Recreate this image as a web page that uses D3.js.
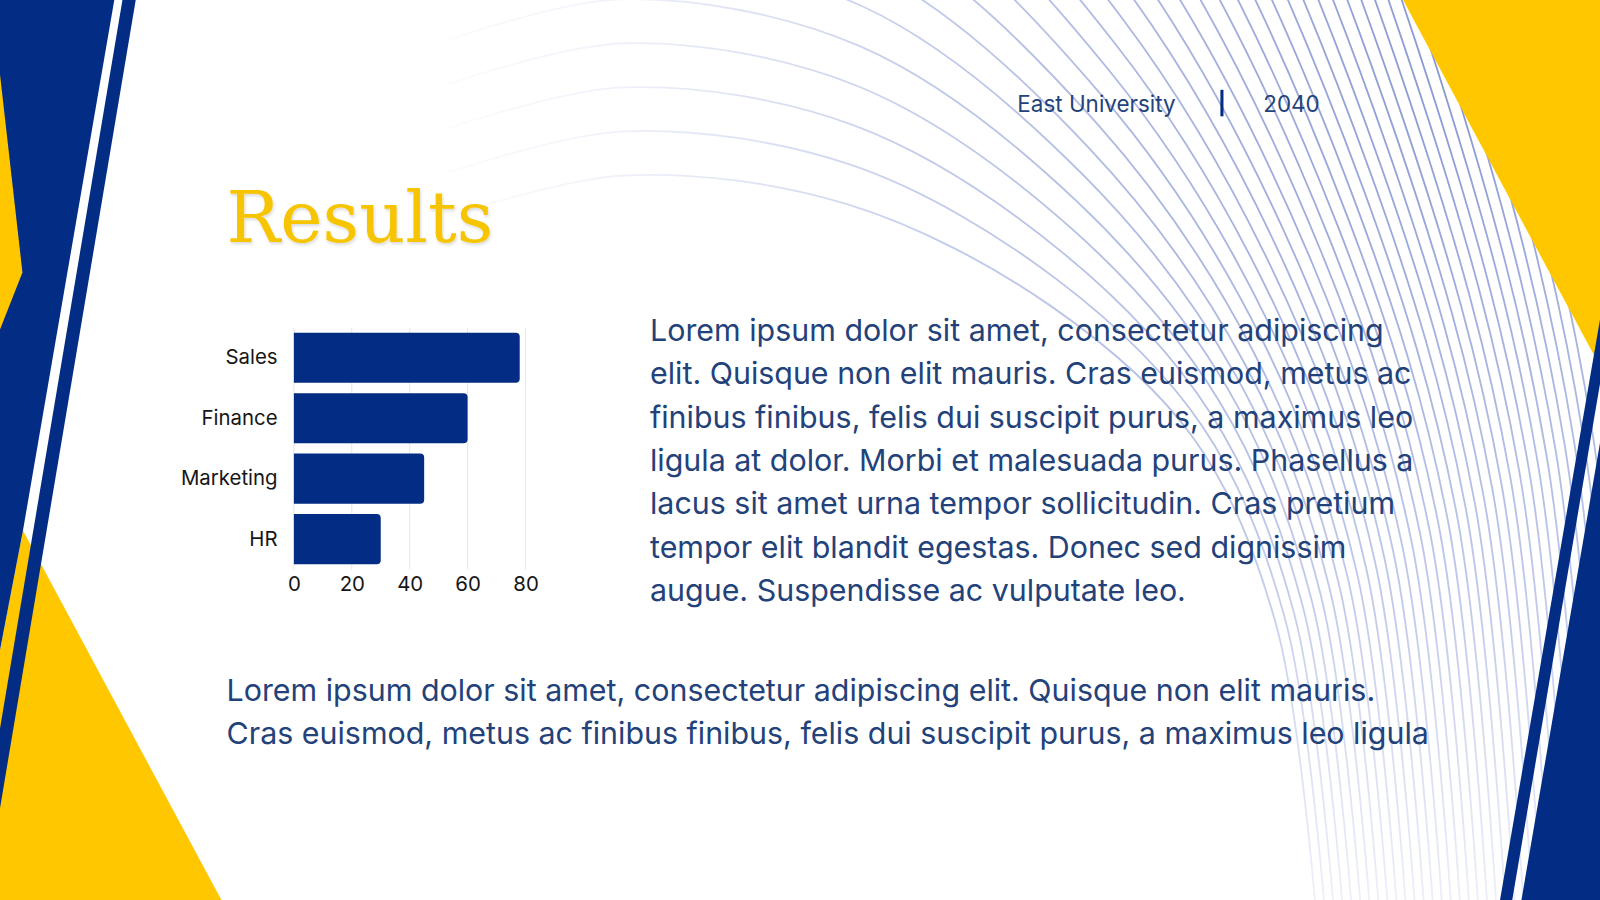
<!DOCTYPE html>
<html>
<head>
<meta charset="utf-8">
<title>Results</title>
<script src="https://d3js.org/d3.v7.min.js"></script>
<style>
  body { margin: 0; background: #fff; overflow: hidden; }
  svg { display: block; }
</style>
</head>
<body>
<svg id="slide"></svg>
<script>
// ---- chart data ----
var categories = ["Sales", "Finance", "Marketing", "HR"];
var values = [78, 60, 45, 30];
var xTicks = [0, 20, 40, 60, 80];

// ---- slide text ----
var headerLeft = "East University";
var headerRight = "2040";
var title = "Results";
var sideText = [
  "Lorem ipsum dolor sit amet, consectetur adipiscing",
  "elit. Quisque non elit mauris. Cras euismod, metus ac",
  "finibus finibus, felis dui suscipit purus, a maximus leo",
  "ligula at dolor. Morbi et malesuada purus. Phasellus a",
  "lacus sit amet urna tempor sollicitudin. Cras pretium",
  "tempor elit blandit egestas. Donec sed dignissim",
  "augue. Suspendisse ac vulputate leo."
];
var bottomText = [
  "Lorem ipsum dolor sit amet, consectetur adipiscing elit. Quisque non elit mauris.",
  "Cras euismod, metus ac finibus finibus, felis dui suscipit purus, a maximus leo ligula"
];

var W = 1568, H = 882;
var navy = "#032c84", yellow = "#ffc700", ink = "#23427a";
var sans = "Inter, 'Noto Sans', sans-serif";

var svg = d3.select("#slide")
  .attr("width", 1600).attr("height", 900)
  .attr("viewBox", "0 0 " + W + " " + H);

var defs = svg.append("defs");
var grad = defs.append("radialGradient").attr("id", "waveFade")
  .attr("gradientUnits", "userSpaceOnUse")
  .attr("cx", 1450).attr("cy", 60).attr("r", 1100);
grad.append("stop").attr("offset", 0).attr("stop-color", "#8494d2").attr("stop-opacity", 1);
grad.append("stop").attr("offset", 0.5).attr("stop-color", "#9aa8dc").attr("stop-opacity", 0.6);
grad.append("stop").attr("offset", 0.8).attr("stop-color", "#b0bbe4").attr("stop-opacity", 0.15);
grad.append("stop").attr("offset", 1).attr("stop-color", "#b7c2e8").attr("stop-opacity", 0);

defs.append("filter").attr("id", "soft")
  .append("feDropShadow").attr("dx", 1).attr("dy", 2).attr("stdDeviation", 1.5)
  .attr("flood-color", "#000").attr("flood-opacity", 0.15);

// background wave lines: blend between an inner and an outer guide curve
var innerGuide = [[440, 212], [612, 172], [830, 200], [1030, 300], [1170, 430], [1250, 610], [1290, 900]];
var outerGuide = [[440, -1300], [612, -1340], [950, -1150], [1250, -600], [1460, 0], [1560, 420], [1600, 900]];
var nLines = 36;
var waveLine = d3.line().curve(d3.curveCatmullRom.alpha(0.5));
var waves = svg.append("g")
  .attr("fill", "none").attr("stroke", "url(#waveFade)").attr("stroke-width", 1.8);
d3.range(nLines).forEach(function(i) {
  var t = i / (nLines - 1);
  var pts = innerGuide.map(function(a, k) {
    var b = outerGuide[k];
    return [a[0] + (b[0] - a[0]) * t, a[1] + (b[1] - a[1]) * t];
  });
  waves.append("path").attr("d", waveLine(pts));
});

// side decorations
var shapes = [
  { fill: yellow, pts: [[22.5, 520], [217, 882], [0, 882], [0, 637]] },
  { fill: navy,   pts: [[0, 0], [112, 0], [22.5, 520], [0, 637]] },
  { fill: yellow, pts: [[0, 73], [22, 267], [0, 323]] },
  { fill: navy,   pts: [[120, 0], [133, 0], [0, 792], [0, 714]] },
  { fill: yellow, pts: [[1375, 0], [1568, 0], [1568, 359]] },
  { fill: navy,   pts: [[1568, 313], [1568, 376], [1482, 882], [1470, 882]] },
  { fill: navy,   pts: [[1568, 434], [1568, 882], [1491, 882]] }
];
svg.append("g").selectAll("polygon").data(shapes).join("polygon")
  .attr("points", function(d) { return d.pts.join(" "); })
  .attr("fill", function(d) { return d.fill; });

// header
svg.append("text").attr("x", 997).attr("y", 110)
  .attr("font-family", sans).attr("font-size", 22).attr("fill", ink)
  .text(headerLeft);
svg.append("rect").attr("x", 1196).attr("y", 88).attr("width", 3).attr("height", 26)
  .attr("fill", navy);
svg.append("text").attr("x", 1238).attr("y", 110)
  .attr("font-family", sans).attr("font-size", 22).attr("fill", ink)
  .text(headerRight);

// title
svg.append("text").attr("x", 222).attr("y", 237)
  .attr("font-family", "'DejaVu Serif', serif").attr("font-size", 70)
  .attr("fill", "#f6c400").attr("filter", "url(#soft)")
  .text(title);

// ---- bar chart ----
var x = d3.scaleLinear().domain([0, 80]).range([288, 515]);
var y = d3.scaleBand().domain(categories).range([326, 553]).paddingInner(0.17);

var chart = svg.append("g");

chart.append("g").selectAll("line").data(xTicks).join("line")
  .attr("x1", function(d) { return x(d); }).attr("x2", function(d) { return x(d); })
  .attr("y1", 321).attr("y2", 558)
  .attr("stroke", "#e6e6e6").attr("stroke-width", 1);

function barPath(v, cat) {
  var x0 = x(0), x1 = x(v), y0 = y(cat), y1 = y0 + y.bandwidth(), r = 4;
  var p = d3.path();
  p.moveTo(x0, y0);
  p.lineTo(x1 - r, y0);
  p.arcTo(x1, y0, x1, y0 + r, r);
  p.lineTo(x1, y1 - r);
  p.arcTo(x1, y1, x1 - r, y1, r);
  p.lineTo(x0, y1);
  p.closePath();
  return p.toString();
}

chart.append("g").selectAll("path").data(categories).join("path")
  .attr("d", function(c, i) { return barPath(values[i], c); })
  .attr("fill", navy);

var xAxis = chart.append("g").attr("transform", "translate(0,553)")
  .call(d3.axisBottom(x).tickValues(xTicks).tickSize(0).tickPadding(12));
var yAxis = chart.append("g").attr("transform", "translate(288,0)")
  .call(d3.axisLeft(y).tickSize(0).tickPadding(16));
[xAxis, yAxis].forEach(function(a) {
  a.select(".domain").remove();
  a.selectAll("text").attr("font-family", sans).attr("font-size", 20).attr("fill", "#161616");
});

// ---- paragraphs ----
svg.append("g").selectAll("text").data(sideText).join("text")
  .attr("x", 637).attr("y", function(d, i) { return 334 + i * 42.5; })
  .attr("font-family", sans).attr("font-size", 29.8).attr("fill", ink)
  .text(function(d) { return d; });

svg.append("g").selectAll("text").data(bottomText).join("text")
  .attr("x", 222).attr("y", function(d, i) { return 687 + i * 42.5; })
  .attr("font-family", sans).attr("font-size", 29.8).attr("fill", ink)
  .text(function(d) { return d; });
</script>
</body>
</html>
